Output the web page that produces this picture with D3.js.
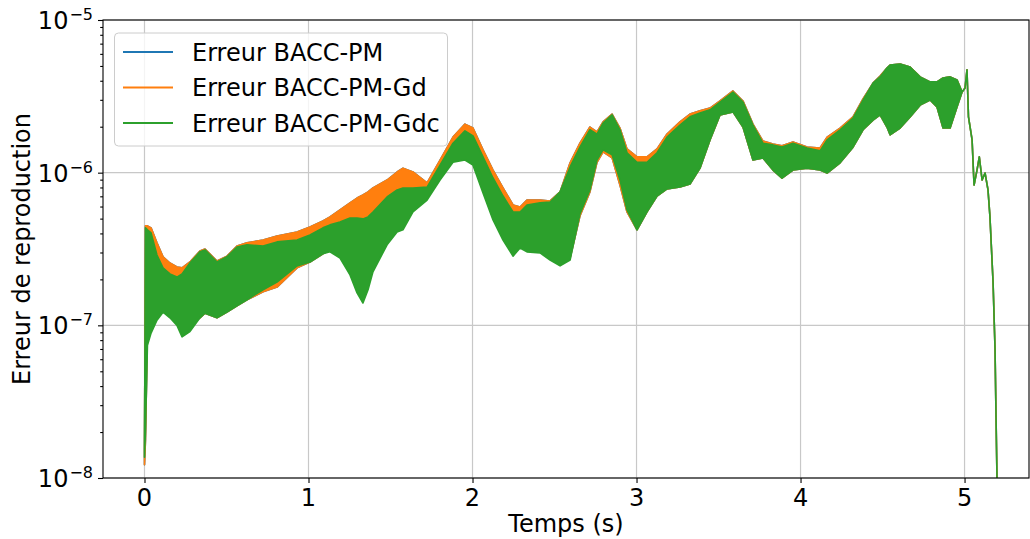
<!DOCTYPE html>
<html>
<head>
<meta charset="utf-8">
<script src="https://cdn.jsdelivr.net/npm/d3@7"></script>
<style>
  html, body { margin: 0; padding: 0; background: #fff; }
  svg { display: block; font-family: "DejaVu Sans", sans-serif; }
</style>
</head>
<body>
<svg id="chart" width="1030" height="539"></svg>
<script>
// ---------------- data ----------------
const time = [
  0, 0.006, 0.018, 0.040, 0.076, 0.113, 0.155, 0.198, 0.229, 0.277,
  0.338, 0.369, 0.442, 0.503, 0.564, 0.625, 0.723, 0.808, 0.930, 1.009,
  1.088, 1.131, 1.192, 1.253, 1.296, 1.332, 1.363, 1.393, 1.479, 1.540,
  1.576, 1.637, 1.723, 1.802, 1.881, 1.954, 2.003, 2.064, 2.125, 2.186,
  2.247, 2.290, 2.332, 2.412, 2.473, 2.534, 2.595, 2.655, 2.716, 2.759,
  2.796, 2.851, 2.899, 2.942, 3.003, 3.064, 3.125, 3.186, 3.265, 3.326,
  3.387, 3.448, 3.509, 3.588, 3.649, 3.710, 3.771, 3.832, 3.887, 3.954,
  4.040, 4.119, 4.162, 4.241, 4.320, 4.381, 4.442, 4.485, 4.527, 4.546,
  4.607, 4.668, 4.729, 4.790, 4.832, 4.869, 4.912, 4.954, 4.985, 5.003,
  5.015, 5.024, 5.046, 5.058, 5.076, 5.090, 5.107, 5.125, 5.143, 5.155,
  5.174, 5.186, 5.192, 5.198
];

// Erreur BACC-PM-Gd : envelope (max / min) of the fast oscillation
const gdUpper = [
  1.53e-8, 4.48e-7, 4.48e-7, 4.35e-7, 3.47e-7, 2.81e-7, 2.56e-7, 2.41e-7, 2.38e-7, 2.60e-7,
  3.07e-7, 3.16e-7, 2.64e-7, 2.84e-7, 3.31e-7, 3.47e-7, 3.62e-7, 3.85e-7, 4.09e-7, 4.41e-7,
  4.83e-7, 5.13e-7, 5.70e-7, 6.34e-7, 6.82e-7, 7.14e-7, 7.48e-7, 7.94e-7, 8.95e-7, 1.01e-6,
  1.07e-6, 1.01e-6, 8.57e-7, 1.21e-6, 1.71e-6, 2.08e-6, 1.96e-6, 1.41e-6, 1.04e-6, 7.94e-7,
  6.14e-7, 5.96e-7, 6.62e-7, 6.62e-7, 6.53e-7, 7.48e-7, 1.16e-6, 1.56e-6, 1.99e-6, 1.85e-6,
  2.15e-6, 2.42e-6, 1.96e-6, 1.43e-6, 1.27e-6, 1.27e-6, 1.43e-6, 1.79e-6, 2.15e-6, 2.42e-6,
  2.54e-6, 2.65e-6, 2.95e-6, 3.43e-6, 2.95e-6, 2.08e-6, 1.61e-6, 1.54e-6, 1.50e-6, 1.59e-6,
  1.47e-6, 1.45e-6, 1.71e-6, 1.96e-6, 2.32e-6, 3.04e-6, 3.86e-6, 4.30e-6, 4.85e-6, 5.07e-6,
  5.15e-6, 4.92e-6, 4.24e-6, 3.93e-6, 3.93e-6, 4.17e-6, 4.24e-6, 4.05e-6, 3.37e-6, 3.59e-6,
  4.71e-6, 2.32e-6, 1.64e-6, 8.3e-7, 1.04e-6, 1.27e-6, 8.95e-7, 9.95e-7, 7.71e-7, 5.13e-7,
  1.90e-7, 6.9e-8, 2.51e-8, 9.7e-9
];
const gdLower = [
  1.22e-8, 1.78e-8, 9.3e-8, 1.26e-7, 1.30e-7, 1.32e-7, 1.22e-7, 1.17e-7, 1.08e-7, 1.0e-7,
  1.12e-7, 1.2e-7, 1.12e-7, 1.22e-7, 1.34e-7, 1.47e-7, 1.66e-7, 1.78e-7, 2.38e-7, 2.60e-7,
  2.94e-7, 3.12e-7, 3.21e-7, 3.37e-7, 3.47e-7, 3.62e-7, 3.73e-7, 3.91e-7, 4.55e-7, 4.90e-7,
  5.28e-7, 6.14e-7, 6.82e-7, 9.2e-7, 1.21e-6, 1.25e-6, 1.16e-6, 7.71e-7, 5.05e-7, 3.85e-7,
  3.12e-7, 3.37e-7, 3.21e-7, 3.12e-7, 2.89e-7, 2.60e-7, 2.76e-7, 5.20e-7, 7.48e-7, 1.17e-6,
  1.37e-6, 1.25e-6, 8.30e-7, 5.53e-7, 4.22e-7, 5.53e-7, 7.03e-7, 7.82e-7, 8.05e-7, 8.43e-7,
  1.07e-6, 1.64e-6, 2.39e-6, 2.50e-6, 1.99e-6, 1.21e-6, 1.25e-6, 1.04e-6, 9.2e-7, 1.04e-6,
  1.07e-6, 1.04e-6, 9.95e-7, 1.16e-6, 1.47e-6, 1.91e-6, 2.21e-6, 2.39e-6, 1.99e-6, 1.77e-6,
  1.96e-6, 2.32e-6, 2.77e-6, 2.99e-6, 2.69e-6, 1.96e-6, 1.96e-6, 2.69e-6, 3.37e-6, 3.59e-6,
  4.71e-6, 2.32e-6, 1.64e-6, 8.3e-7, 1.04e-6, 1.27e-6, 8.95e-7, 9.95e-7, 7.71e-7, 5.13e-7,
  1.90e-7, 6.9e-8, 2.51e-8, 9.7e-9
];

// Erreur BACC-PM-Gdc
const gdcUpper = [
  1.53e-8, 4.35e-7, 4.22e-7, 4.03e-7, 2.89e-7, 2.38e-7, 2.17e-7, 2.07e-7, 2.17e-7, 2.56e-7,
  3.03e-7, 3.12e-7, 2.60e-7, 2.81e-7, 3.26e-7, 3.37e-7, 3.31e-7, 3.52e-7, 3.62e-7, 3.91e-7,
  4.35e-7, 4.55e-7, 4.75e-7, 5.05e-7, 5.05e-7, 4.98e-7, 5.13e-7, 5.53e-7, 6.93e-7, 7.71e-7,
  7.94e-7, 7.94e-7, 8.05e-7, 1.12e-6, 1.56e-6, 1.88e-6, 1.74e-6, 1.27e-6, 9.23e-7, 7.03e-7,
  5.53e-7, 5.53e-7, 6.14e-7, 6.34e-7, 6.43e-7, 7.48e-7, 1.09e-6, 1.47e-6, 1.91e-6, 1.79e-6,
  2.11e-6, 2.39e-6, 1.91e-6, 1.35e-6, 1.17e-6, 1.17e-6, 1.35e-6, 1.71e-6, 2.05e-6, 2.32e-6,
  2.46e-6, 2.58e-6, 2.90e-6, 3.37e-6, 2.90e-6, 2.05e-6, 1.56e-6, 1.52e-6, 1.47e-6, 1.56e-6,
  1.45e-6, 1.39e-6, 1.64e-6, 1.91e-6, 2.28e-6, 2.99e-6, 3.86e-6, 4.24e-6, 4.85e-6, 5.07e-6,
  5.15e-6, 4.92e-6, 4.24e-6, 3.93e-6, 3.93e-6, 4.17e-6, 4.24e-6, 4.05e-6, 3.37e-6, 3.59e-6,
  4.71e-6, 2.32e-6, 1.64e-6, 8.3e-7, 1.04e-6, 1.27e-6, 8.95e-7, 9.95e-7, 7.71e-7, 5.13e-7,
  1.90e-7, 6.9e-8, 2.51e-8, 9.7e-9
];
const gdcLower = [
  1.37e-8, 2.07e-8, 7.4e-8, 8.9e-8, 1.08e-7, 1.22e-7, 1.12e-7, 1.0e-7, 8.4e-8, 9.1e-8,
  1.12e-7, 1.2e-7, 1.12e-7, 1.22e-7, 1.34e-7, 1.47e-7, 1.71e-7, 1.92e-7, 2.45e-7, 2.60e-7,
  2.94e-7, 3.03e-7, 2.76e-7, 2.14e-7, 1.63e-7, 1.40e-7, 1.71e-7, 2.24e-7, 3.37e-7, 4.09e-7,
  4.22e-7, 5.53e-7, 6.62e-7, 8.95e-7, 1.17e-6, 1.21e-6, 1.12e-6, 7.36e-7, 4.90e-7, 3.62e-7,
  2.84e-7, 3.21e-7, 3.03e-7, 2.98e-7, 2.68e-7, 2.45e-7, 2.68e-7, 5.37e-7, 7.71e-7, 1.21e-6,
  1.41e-6, 1.31e-6, 8.95e-7, 5.70e-7, 4.22e-7, 5.53e-7, 7.03e-7, 7.82e-7, 8.05e-7, 8.43e-7,
  1.07e-6, 1.64e-6, 2.39e-6, 2.50e-6, 1.99e-6, 1.21e-6, 1.25e-6, 1.04e-6, 9.2e-7, 1.04e-6,
  1.07e-6, 1.04e-6, 9.95e-7, 1.16e-6, 1.47e-6, 1.91e-6, 2.21e-6, 2.39e-6, 1.99e-6, 1.77e-6,
  1.96e-6, 2.32e-6, 2.77e-6, 2.99e-6, 2.69e-6, 1.96e-6, 1.96e-6, 2.69e-6, 3.37e-6, 3.59e-6,
  4.71e-6, 2.32e-6, 1.64e-6, 8.3e-7, 1.04e-6, 1.27e-6, 8.95e-7, 9.95e-7, 7.71e-7, 5.13e-7,
  1.90e-7, 6.9e-8, 2.51e-8, 9.7e-9
];

// Erreur BACC-PM : fully hidden under the Gd curve in the picture, same envelope
const pmUpper = gdUpper;
const pmLower = gdLower;

const xTicks = [0, 1, 2, 3, 4, 5];
const yTicks = [1e-8, 1e-7, 1e-6, 1e-5];
const yTickExp = ["\u22128", "\u22127", "\u22126", "\u22125"];
const seriesNames = ["Erreur BACC-PM", "Erreur BACC-PM-Gd", "Erreur BACC-PM-Gdc"];
const seriesColors = ["#1f77b4", "#ff7f0e", "#2ca02c"];
const xLabel = "Temps (s)";
const yLabel = "Erreur de reproduction";

// ---------------- layout ----------------
const m = { left: 103, top: 20, right: 1029, bottom: 478 };
const FS = 24;
const svg = d3.select("#chart");

const x = d3.scaleLinear().domain([-0.253, 5.393]).range([m.left, m.right]);
const y = d3.scaleLog().domain([1e-8, 1e-5]).range([m.bottom, m.top]);

svg.append("defs").append("clipPath").attr("id", "clip")
  .append("rect").attr("x", m.left).attr("y", m.top)
  .attr("width", m.right - m.left).attr("height", m.bottom - m.top);

// grid
const grid = svg.append("g");
grid.selectAll("line.gx").data(xTicks).join("line")
  .attr("x1", d => x(d)).attr("x2", d => x(d))
  .attr("y1", m.top).attr("y2", m.bottom)
  .attr("stroke", "#c8c8c8").attr("stroke-width", 1.2);
grid.selectAll("line.gy").data(yTicks).join("line")
  .attr("x1", m.left).attr("x2", m.right)
  .attr("y1", d => y(d)).attr("y2", d => y(d))
  .attr("stroke", "#c8c8c8").attr("stroke-width", 1.2);

// data
const rows = time.map((t, i) => ({ t, i }));
const series = [
  { up: pmUpper, lo: pmLower, color: seriesColors[0] },
  { up: gdUpper, lo: gdLower, color: seriesColors[1] },
  { up: gdcUpper, lo: gdcLower, color: seriesColors[2] }
];
const plot = svg.append("g").attr("clip-path", "url(#clip)");
series.forEach(s => {
  const area = d3.area()
    .x(d => x(d.t))
    .y0(d => y(s.lo[d.i]))
    .y1(d => y(s.up[d.i]));
  plot.append("path").datum(rows)
    .attr("d", area)
    .attr("fill", s.color)
    .attr("stroke", s.color)
    .attr("stroke-width", 1.6)
    .attr("stroke-linejoin", "round");
});

// axes
const xAxis = svg.append("g").attr("transform", `translate(0,${m.bottom})`)
  .call(d3.axisBottom(x).tickValues(xTicks).tickSize(5).tickFormat(""));
const minor = [];
for (let e = -8; e < -5; e++) for (let k = 2; k <= 9; k++) minor.push(k * Math.pow(10, e));
const yMinor = svg.append("g").attr("transform", `translate(${m.left},0)`)
  .call(d3.axisLeft(y).tickValues(minor).tickSize(2.8).tickFormat(""));
const yAxis = svg.append("g").attr("transform", `translate(${m.left},0)`)
  .call(d3.axisLeft(y).tickValues(yTicks).tickSize(5).tickFormat(""));
[xAxis, yMinor, yAxis].forEach(g => {
  g.select(".domain").remove();
  g.selectAll(".tick line").attr("stroke", "#000").attr("stroke-width", 1.1);
});

// frame
svg.append("rect").attr("x", m.left).attr("y", m.top)
  .attr("width", m.right - m.left).attr("height", m.bottom - m.top)
  .attr("fill", "none").attr("stroke", "#000").attr("stroke-width", 1.1);

// tick labels
svg.append("g").selectAll("text").data(xTicks).join("text")
  .attr("x", d => x(d)).attr("y", m.bottom + 28)
  .attr("text-anchor", "middle").attr("font-size", FS).attr("fill", "#000")
  .text(d => d);

const yl = svg.append("g").selectAll("text").data(yTicks).join("text")
  .attr("x", 93).attr("y", d => y(d) + 9)
  .attr("text-anchor", "end").attr("font-size", FS).attr("fill", "#000");
yl.append("tspan").text("10");
yl.append("tspan").attr("font-size", 16).attr("dx", 1).attr("dy", -9)
  .text((d, i) => yTickExp[i]);

// axis labels
svg.append("text").attr("x", (m.left + m.right) / 2).attr("y", 532)
  .attr("text-anchor", "middle").attr("font-size", FS).text(xLabel);
svg.append("text")
  .attr("transform", `translate(30,${(m.top + m.bottom) / 2}) rotate(-90)`)
  .attr("text-anchor", "middle").attr("font-size", FS).text(yLabel);

// legend
const lg = svg.append("g");
lg.append("rect").attr("x", 114.5).attr("y", 33).attr("width", 333).attr("height", 113)
  .attr("rx", 4).attr("fill", "#fff").attr("fill-opacity", 0.8)
  .attr("stroke", "#cccccc").attr("stroke-width", 1);
seriesNames.forEach((name, i) => {
  const cy = 52 + i * 35.5;
  lg.append("line").attr("x1", 123).attr("x2", 173).attr("y1", cy).attr("y2", cy)
    .attr("stroke", seriesColors[i]).attr("stroke-width", 2);
  lg.append("text").attr("x", 192).attr("y", cy + 8.5).attr("font-size", FS)
    .attr("fill", "#000").text(name);
});
</script>
</body>
</html>
